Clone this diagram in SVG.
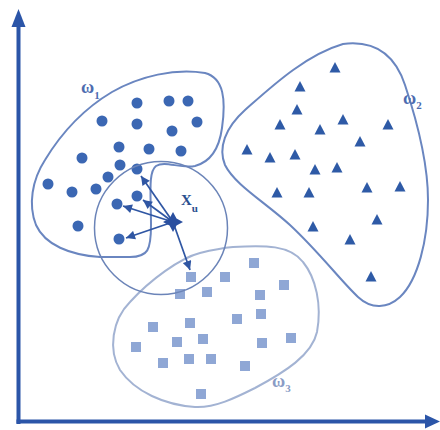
<svg xmlns="http://www.w3.org/2000/svg" xmlns:xlink="http://www.w3.org/1999/xlink" width="440" height="430" viewBox="0 0 440 430">
<style>
.outline1{fill:none;stroke:#6a86c0;stroke-width:2}
.outline3{fill:none;stroke:#a3b3d3;stroke-width:2}
.neigh{fill:none;stroke:#6b84b8;stroke-width:1.5}
.dot{fill:#3b67b3}
.tri{fill:#2e5aa6}
.sq{fill:#8fa7d5}
.lbl{font-family:"Liberation Serif","DejaVu Serif",serif;fill:#4d6cb0;font-weight:bold}
.lbl3{font-family:"Liberation Serif","DejaVu Serif",serif;fill:#8a9cc6;font-weight:bold}
.xu{font-family:"Liberation Serif","DejaVu Serif",serif;fill:#2a4f8f;font-weight:bold}
.arrow{stroke:#2f56a3;stroke-width:1.7;fill:none;marker-end:url(#ah)}
.axis{stroke:#2b55a8;stroke-width:4;fill:none}
</style>
<defs>
<marker id="ah" viewBox="0 0 10 10" refX="10" refY="5" markerWidth="10" markerHeight="9" markerUnits="userSpaceOnUse" orient="auto">
<path d="M0,0 L10,5 L0,10 Z" fill="#2f56a3"/>
</marker>
<circle id="d" r="5.5"/>
<path id="t" d="M0,-6 L5.5,4.5 L-5.5,4.5 Z"/>
<rect id="s" x="-5" y="-5" width="10" height="10"/>
</defs>
<rect width="440" height="430" fill="#ffffff"/>

<g id="axes">
<line class="axis" x1="18.5" y1="424" x2="18.5" y2="24"/>
<polygon points="18.5,9 11.5,27 25.5,27" fill="#2b55a8"/>
<line class="axis" x1="16.5" y1="421.5" x2="428" y2="421.5"/>
<polygon points="440,421.5 425,414.5 425,428.5" fill="#2b55a8"/>
</g>

<g id="cluster-w3">
<path class="outline3" d="M233 247 C265 245,290 245,303 262 C316 278,322 305,317 332 C312 355,285 372,255 388 C235 398,215 408,195 407 C165 405,135 392,120 370 C108 350,112 320,130 302 C150 280,180 258,200 253 C212 250,222 248,233 247 Z"/>
<g class="sq">
<use xlink:href="#s" x="191" y="277"/>
<use xlink:href="#s" x="225" y="277"/>
<use xlink:href="#s" x="254" y="263"/>
<use xlink:href="#s" x="284" y="285"/>
<use xlink:href="#s" x="180" y="294"/>
<use xlink:href="#s" x="207" y="292"/>
<use xlink:href="#s" x="260" y="295"/>
<use xlink:href="#s" x="261" y="314"/>
<use xlink:href="#s" x="237" y="319"/>
<use xlink:href="#s" x="153" y="327"/>
<use xlink:href="#s" x="190" y="323"/>
<use xlink:href="#s" x="136" y="347"/>
<use xlink:href="#s" x="177" y="342"/>
<use xlink:href="#s" x="203" y="339"/>
<use xlink:href="#s" x="262" y="343"/>
<use xlink:href="#s" x="291" y="338"/>
<use xlink:href="#s" x="163" y="363"/>
<use xlink:href="#s" x="189" y="359"/>
<use xlink:href="#s" x="211" y="359"/>
<use xlink:href="#s" x="245" y="366"/>
<use xlink:href="#s" x="201" y="394"/>
</g>
<text class="lbl3" x="272" y="387" font-size="18">ω<tspan font-size="11" dy="5">3</tspan></text>
</g>

<g id="cluster-w2">
<path class="outline1" d="M343 44 C375 40,395 55,405 85 C415 115,428 160,428 200 C428 240,418 280,400 297 C388 308,372 310,358 297 C340 280,320 253,290 225 C265 202,235 185,225 165 C218 148,225 128,245 110 C270 88,305 55,343 44 Z"/>
<g class="tri">
<use xlink:href="#t" x="335" y="68"/>
<use xlink:href="#t" x="300" y="87"/>
<use xlink:href="#t" x="297" y="110"/>
<use xlink:href="#t" x="280" y="125"/>
<use xlink:href="#t" x="343" y="120"/>
<use xlink:href="#t" x="320" y="130"/>
<use xlink:href="#t" x="388" y="125"/>
<use xlink:href="#t" x="360" y="142"/>
<use xlink:href="#t" x="247" y="150"/>
<use xlink:href="#t" x="270" y="158"/>
<use xlink:href="#t" x="295" y="155"/>
<use xlink:href="#t" x="315" y="170"/>
<use xlink:href="#t" x="337" y="168"/>
<use xlink:href="#t" x="277" y="193"/>
<use xlink:href="#t" x="309" y="193"/>
<use xlink:href="#t" x="367" y="188"/>
<use xlink:href="#t" x="400" y="187"/>
<use xlink:href="#t" x="377" y="220"/>
<use xlink:href="#t" x="313" y="227"/>
<use xlink:href="#t" x="350" y="240"/>
<use xlink:href="#t" x="371" y="277"/>
</g>
<text class="lbl" x="403" y="104" font-size="18">ω<tspan font-size="11" dy="5">2</tspan></text>
</g>

<g id="cluster-w1">
<path class="outline1" d="M112 92 C140 76,175 68,205 73 C224 78,226 100,222 128 C219 150,210 162,195 166 C180 169,165 160,156 166 C148 172,151 195,151 225 C151 250,148 257,130 257 L100 257 C70 255,45 245,36 225 C28 205,32 180,45 160 C62 132,85 108,112 92 Z"/>
<g class="dot">
<use xlink:href="#d" x="137" y="103"/>
<use xlink:href="#d" x="169" y="101"/>
<use xlink:href="#d" x="188" y="101"/>
<use xlink:href="#d" x="102" y="121"/>
<use xlink:href="#d" x="137" y="124"/>
<use xlink:href="#d" x="197" y="122"/>
<use xlink:href="#d" x="172" y="131"/>
<use xlink:href="#d" x="119" y="147"/>
<use xlink:href="#d" x="149" y="149"/>
<use xlink:href="#d" x="181" y="151"/>
<use xlink:href="#d" x="82" y="158"/>
<use xlink:href="#d" x="120" y="165"/>
<use xlink:href="#d" x="137" y="169"/>
<use xlink:href="#d" x="108" y="177"/>
<use xlink:href="#d" x="48" y="184"/>
<use xlink:href="#d" x="72" y="192"/>
<use xlink:href="#d" x="96" y="189"/>
<use xlink:href="#d" x="137" y="196"/>
<use xlink:href="#d" x="117" y="204"/>
<use xlink:href="#d" x="78" y="226"/>
<use xlink:href="#d" x="119" y="239"/>
</g>
<text class="lbl" x="81" y="93" font-size="18">ω<tspan font-size="11" dy="6">1</tspan></text>
</g>

<g id="neighbourhood">
<circle class="neigh" cx="161" cy="228" r="66.5"/>
</g>

<g id="connectors">
<line class="arrow" x1="173" y1="222" x2="141" y2="176"/>
<line class="arrow" x1="173" y1="222" x2="143" y2="200"/>
<line class="arrow" x1="173" y1="222" x2="123" y2="206"/>
<line class="arrow" x1="173" y1="222" x2="126" y2="238"/>
<line class="arrow" x1="173" y1="222" x2="190" y2="270"/>
</g>

<g id="xu">
<path d="M173,212 L176.5,218.5 L183,222 L176.5,225.5 L173,232 L169.5,225.5 L163,222 L169.5,218.5 Z" fill="#2a4f9f"/>
<text class="xu" x="181" y="205" font-size="15">X<tspan font-size="11" dy="7">u</tspan></text>
</g>
</svg>
